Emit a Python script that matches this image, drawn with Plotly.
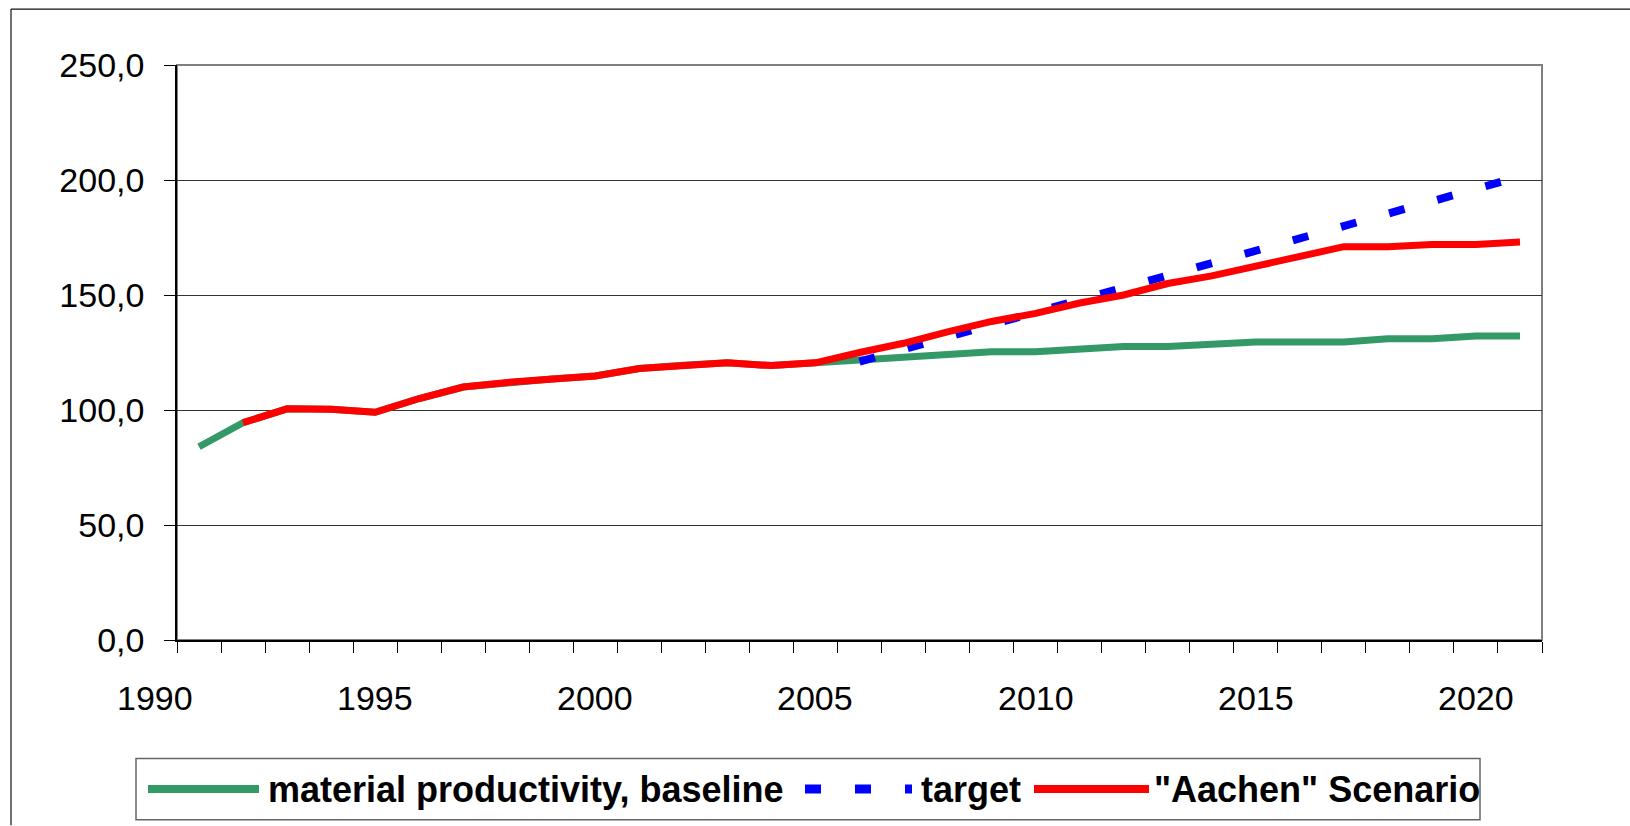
import plotly.graph_objects as go

# ---- data -------------------------------------------------------------
years = list(range(1991, 2022))

baseline = [84.0, 94.5, 100.5, 100.3, 99.0, 105.0, 110.0, 112.0, 113.5, 114.8,
            118.0, 119.5, 120.5, 119.3, 120.5, 121.7, 122.8, 124.0, 125.3, 125.3,
            126.5, 127.6, 127.6, 128.6, 129.6, 129.6, 129.6, 131.0, 131.0, 132.2,
            132.2]

target = [None] * 15 + [121.0, 126.5, 131.8, 137.2, 142.5, 147.8, 153.2, 158.5,
                        163.8, 169.3, 174.6, 180.0, 185.5, 190.8, 196.2, 201.5]

aachen = [None, 94.5, 100.5, 100.3, 99.0, 105.0, 110.0, 112.0, 113.5, 114.8,
          118.0, 119.5, 120.5, 119.3, 120.5, 125.0, 129.0, 134.0, 138.5, 142.0,
          146.5, 150.0, 155.0, 158.3, 162.7, 166.8, 171.0, 171.0, 172.0, 172.0,
          173.0]

year_labels = [1990, 1995, 2000, 2005, 2010, 2015, 2020]
y_ticks = [0, 50, 100, 150, 200, 250]

series = [
    dict(name="material productivity, baseline", values=baseline,
         color="#339966", dash="solid", width=7),
    dict(name="target", values=target,
         color="#0000FF", dash="16px,34px", width=8),
    dict(name="\"Aachen\" Scenario", values=aachen,
         color="#FF0000", dash="solid", width=7),
]

# ---- layout geometry (pixels) ------------------------------------------
W, H = 1630, 826
L, R, T, B = 177, 88, 65, 185.5
PW, PH = W - L - R, H - T - B
FONT = "Liberation Sans, Arial, Helvetica, sans-serif"
X_RANGE = [years[0] - 0.5, years[-1] + 0.5]


def px_x(x):
    return (x - L) / PW


def px_y(y):
    return (H - B - y) / PH


def year_to_paper(yr):
    return (yr - X_RANGE[0]) / (X_RANGE[1] - X_RANGE[0])


fig = go.Figure()
for s in series:
    fig.add_trace(go.Scatter(
        x=years, y=s["values"], mode="lines", name=s["name"],
        line=dict(color=s["color"], width=s["width"], dash=s["dash"]),
        connectgaps=False, showlegend=False, hoverinfo="x+y",
    ))

shapes = []
annotations = []

# outer chart frame: left and top edges
frame = dict(color="#111111", width=1.2)
shapes.append(dict(type="line", xref="paper", yref="paper",
                   x0=px_x(11), x1=px_x(11), y0=px_y(H), y1=px_y(9),
                   line=frame, layer="below"))
shapes.append(dict(type="line", xref="paper", yref="paper",
                   x0=px_x(11), x1=px_x(W), y0=px_y(9), y1=px_y(9),
                   line=frame, layer="below"))

# plot area border
shapes.append(dict(type="rect", xref="x domain", yref="y domain",
                   x0=0, x1=1, y0=0, y1=1,
                   line=dict(color="#808080", width=2), layer="below"))

# year labels under the category axis (1990 sits just left of the first category)
for yr in year_labels:
    annotations.append(dict(x=year_to_paper(yr), y=0, xref="paper", yref="paper",
                            text=str(yr), showarrow=False,
                            xanchor="center", yanchor="middle", yshift=-58,
                            font=dict(family=FONT, size=34, color="black")))

# legend box with its keys and labels
leg_top, leg_bot = 759, 820.5
leg_mid = (leg_top + leg_bot) / 2
shapes.append(dict(type="rect", xref="paper", yref="paper",
                   x0=px_x(136), x1=px_x(1480), y0=px_y(leg_bot), y1=px_y(leg_top),
                   line=dict(color="#666666", width=1.5),
                   fillcolor="white", layer="above"))

key_spans = [(148, 259), (805, 912), (1034, 1149)]
text_starts = [266, 919, 1152]
for s, (k0, k1), tx in zip(series, key_spans, text_starts):
    shapes.append(dict(type="line", xref="paper", yref="paper",
                       x0=px_x(k0), x1=px_x(k1), y0=px_y(leg_mid), y1=px_y(leg_mid),
                       line=dict(color=s["color"], width=s["width"] + 1,
                                 dash=s["dash"]),
                       layer="above"))
    annotations.append(dict(x=px_x(tx), y=px_y(leg_mid), xref="paper", yref="paper",
                            text="<b>" + s["name"] + "</b>", showarrow=False,
                            xanchor="left", yanchor="middle",
                            font=dict(family=FONT, size=36, color="black")))

fig.update_layout(
    width=W, height=H,
    margin=dict(l=L, r=R, t=T, b=B, pad=0),
    paper_bgcolor="white", plot_bgcolor="white",
    separators=",.",
    font=dict(family=FONT, color="black"),
    shapes=shapes, annotations=annotations,
    showlegend=False,
    xaxis=dict(range=X_RANGE, showgrid=False, zeroline=False,
               showline=True, linecolor="black", linewidth=1.5,
               ticks="outside", tick0=X_RANGE[0], dtick=1, ticklen=11,
               tickcolor="black", tickwidth=1, showticklabels=False,
               fixedrange=True),
    yaxis=dict(range=[0, 250], tickvals=y_ticks, tickformat=".1f",
               showgrid=True, gridcolor="#333333", gridwidth=1,
               zeroline=False, showline=True, linecolor="black", linewidth=1.5,
               ticks="outside", ticklen=11, tickcolor="black", tickwidth=1,
               ticklabelstandoff=13,
               tickfont=dict(family=FONT, size=34, color="black"),
               fixedrange=True),
)

# keep the page exactly figure-sized (no scrollbars)
page_css = ("document.documentElement.style.overflow='hidden';"
            "document.body.style.overflow='hidden';"
            "document.body.style.margin='0';")

fig.write_html("out.html", config={"displayModeBar": False}, post_script=page_css)
